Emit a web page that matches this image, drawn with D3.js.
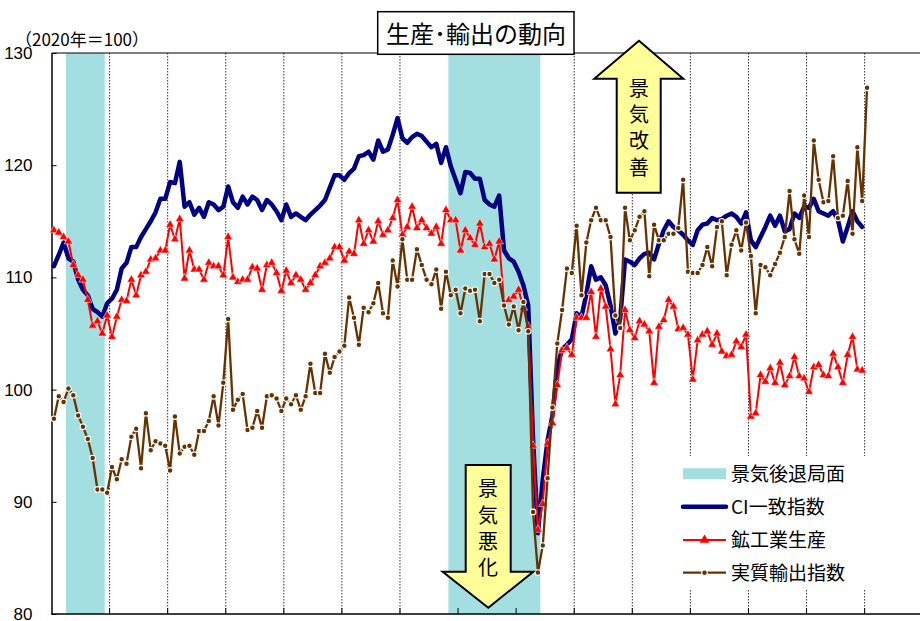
<!DOCTYPE html>
<html><head><meta charset="utf-8">
<script src="https://cdn.jsdelivr.net/npm/d3@7"></script>
<style>body{margin:0;background:#fff}svg{display:block}</style>
</head><body>
<svg id="c" width="920" height="621"></svg>
<script>
// ---------- data ----------
const yTicks = [80, 90, 100, 110, 120, 130];
const years = [2012,2013,2014,2015,2016,2017,2018,2019,2020,2021,2022,2023,2024,2025,2026];
const recessions = [["2012-04","2012-11"],["2018-11","2020-05"]];
const legendLabels = ["景気後退局面","CI一致指数","鉱工業生産","実質輸出指数"];

const ci = [111.0,112.0,113.1,111.7,111.4,109.8,108.9,108.4,107.2,106.9,106.5,107.7,
108.1,108.9,110.8,111.3,112.7,112.7,113.6,114.3,115.0,115.8,117.0,117.0,
118.5,118.4,120.3,116.3,116.7,115.6,116.2,115.4,116.7,116.5,116.0,116.3,
118.1,116.7,116.2,117.2,116.5,117.2,116.9,116.0,116.9,116.5,115.9,115.1,
116.5,115.4,115.7,115.4,115.1,115.6,116.0,116.4,116.9,118.0,119.1,119.1,
118.7,119.3,119.7,120.8,120.9,121.2,120.5,122.2,121.2,121.4,122.7,124.2,
122.4,122.0,122.5,122.8,122.6,122.1,121.6,121.9,120.2,121.6,119.9,118.7,
117.5,119.4,119.3,118.8,118.8,116.9,116.5,116.3,117.3,112.4,111.7,111.4,
110.5,109.3,107.5,95.5,87.2,92.0,95.5,97.7,102.0,103.6,104.0,104.5,
106.8,106.5,108.5,111.0,109.8,110.0,109.3,107.5,105.0,106.3,111.6,111.4,
111.1,111.7,112.1,112.2,111.6,113.0,114.2,115.0,114.5,114.2,113.8,113.3,
112.9,114.2,114.7,114.8,115.3,115.1,115.2,115.5,115.7,115.4,114.8,115.8,
113.3,112.7,113.6,114.5,115.5,114.6,115.5,114.1,114.3,115.7,115.3,116.3,
116.2,117.0,115.9,115.7,115.5,115.9,115.1,113.2,114.5,115.9,115.0,114.5];

const iip = [114.2,114.0,113.6,113.2,111.1,110.2,109.8,108.0,105.7,106.1,105.0,106.6,
104.7,106.5,108.0,107.9,109.8,108.4,110.2,110.5,111.6,111.7,112.4,112.4,
114.7,113.4,115.2,109.9,112.4,110.7,110.7,109.8,111.3,111.0,111.0,110.2,
113.6,110.0,109.6,109.8,109.8,110.9,110.8,108.9,111.1,111.3,110.4,108.8,
110.6,109.5,110.2,109.8,108.9,109.5,110.2,111.0,111.3,111.7,112.7,112.7,
111.5,112.3,112.1,115.1,113.0,114.2,113.2,115.0,113.8,114.2,115.3,116.9,
113.8,114.5,116.3,114.4,115.1,114.4,113.9,114.5,113.0,116.0,115.1,115.1,
112.4,114.2,113.5,112.9,114.8,112.7,113.0,111.6,113.2,107.7,108.0,108.3,
108.9,107.3,105.6,95.0,87.5,89.8,95.2,97.0,100.4,103.5,103.7,103.1,
106.4,106.4,106.4,108.7,104.7,109.0,107.4,103.6,98.7,101.3,107.1,105.3,
104.6,106.1,105.8,105.2,100.6,105.6,106.2,108.0,107.4,105.4,105.5,104.9,
100.9,104.4,104.9,105.2,104.0,105.0,103.4,103.0,103.1,104.3,103.8,104.9,
97.6,97.9,101.3,100.7,101.9,100.6,102.4,100.4,101.2,102.9,101.2,101.0,
99.8,102.0,102.2,101.3,101.2,103.2,102.0,100.6,103.1,104.7,101.8,101.7];

const realExports = [97.4,99.4,98.9,100.1,99.5,97.7,96.7,95.6,93.9,91.1,91.1,90.8,
93.1,92.0,93.8,93.4,95.8,96.5,93.0,97.9,94.6,95.4,95.2,95.0,
92.8,97.6,94.3,94.9,95.0,94.2,96.3,96.3,97.2,99.4,96.8,100.6,
106.3,98.2,99.1,99.6,96.4,96.6,98.1,96.6,99.4,99.5,99.2,98.1,
99.2,98.7,99.5,98.2,99.4,102.3,99.7,99.7,103.2,101.5,102.9,103.4,
103.9,108.2,106.4,104.0,107.3,106.9,107.7,109.5,106.8,106.4,111.5,109.2,
113.4,109.8,109.8,112.5,111.1,109.8,109.4,110.7,107.2,110.5,108.4,108.9,
106.8,109.0,108.8,108.9,106.1,110.3,110.3,109.5,109.8,107.5,105.8,107.4,
105.3,107.8,105.2,89.1,83.7,86.1,92.1,98.4,104.1,107.1,110.8,110.4,
114.6,108.4,113.1,115.1,116.2,115.1,115.1,113.6,106.6,105.5,116.2,113.3,
114.2,115.4,115.9,110.1,114.7,113.3,113.3,113.9,113.9,114.4,118.7,110.5,
110.4,110.4,111.1,112.7,111.0,114.5,115.0,110.2,112.9,114.2,112.4,114.9,
111.9,106.8,111.1,110.9,110.2,111.2,112.2,113.6,117.7,113.4,112.1,117.3,
113.6,122.2,118.7,116.7,116.8,120.8,115.3,115.5,118.6,113.9,121.6,116.8,
126.9];

const months = [];
years.forEach(yr => { for (let m = 1; m <= 12; m++) months.push(yr + "-" + String(m).padStart(2, "0")); });

// ---------- layout ----------
const L = 51.5, T = 53, B = 614, monthW = 4.84;
const svg = d3.select("#c");
const x = d3.scaleLinear().domain([0, 180]).range([L, L + 180 * monthW]);
const y = d3.scaleLinear().domain([80, 130]).range([B, T]);
const cx = i => x(i + 0.5);
const idx = m => months.indexOf(m);

const FONT = "'Noto Sans CJK JP', 'Noto Sans', sans-serif";
const NAVY = "#000080", RED = "#ff0000", BROWN = "#663300", TEAL = "#a3dfe0";

// vertical year grid (dotted)
const yearBounds = years.slice(1).map(yr => idx(yr + "-01")).filter(i => i > 0 && x(i) < 920);
svg.append("g").selectAll("line").data(yearBounds).join("line")
  .attr("x1", d => x(d)).attr("x2", d => x(d))
  .attr("y1", T).attr("y2", B)
  .attr("stroke", "#333").attr("stroke-width", 1).attr("stroke-dasharray", "1.5,1.5");

// recession shading
svg.append("g").selectAll("rect").data(recessions).join("rect")
  .attr("x", d => x(idx(d[0])))
  .attr("width", d => x(idx(d[1]) + 1) - x(idx(d[0])))
  .attr("y", T).attr("height", B - T)
  .attr("fill", TEAL);

// bottom ticks
svg.append("g").selectAll("line").data(yearBounds).join("line")
  .attr("x1", d => x(d)).attr("x2", d => x(d))
  .attr("y1", B - 6).attr("y2", B)
  .attr("stroke", "#000").attr("stroke-width", 1);

// frame lines
svg.append("line").attr("x1", L).attr("x2", 920).attr("y1", T).attr("y2", T).attr("stroke", "#000").attr("stroke-width", 1.2);
svg.append("line").attr("x1", L).attr("x2", 920).attr("y1", B).attr("y2", B).attr("stroke", "#000").attr("stroke-width", 1.5);

// y axis
const yAxis = d3.axisLeft(y).tickValues(yTicks).tickSize(-5).tickSizeOuter(0).tickPadding(19).tickFormat(d3.format("d"));
const ya = svg.append("g").attr("transform", `translate(${L},0)`).call(yAxis);
ya.select(".domain").attr("stroke", "#000").attr("stroke-width", 1.5);
ya.selectAll(".tick line").attr("stroke", "#000");
ya.selectAll("text").attr("font-family", "'Liberation Sans', Arial, sans-serif").attr("font-size", 17).attr("fill", "#000");

// unit label
svg.append("text").attr("x", 15).attr("y", 46).attr("font-family", FONT).attr("font-size", 17)
  .attr("fill", "#000").text("（2020年＝100）");

// series
const lineGen = d3.line().x((d, i) => cx(i)).y(d => y(d));
svg.append("path").datum(ci).attr("d", lineGen).attr("fill", "none")
  .attr("stroke", NAVY).attr("stroke-width", 4.5).attr("stroke-linejoin", "round").attr("stroke-linecap", "round");

svg.append("path").datum(iip).attr("d", lineGen).attr("fill", "none")
  .attr("stroke", RED).attr("stroke-width", 2).attr("stroke-linejoin", "round");
const tri = d3.symbol().type(d3.symbolTriangle).size(32);
svg.append("g").selectAll("path").data(iip).join("path")
  .attr("d", tri).attr("transform", (d, i) => `translate(${cx(i)},${y(d)})`)
  .attr("fill", RED).attr("stroke", "#fff").attr("stroke-width", 0.5);

svg.append("path").datum(realExports).attr("d", lineGen).attr("fill", "none")
  .attr("stroke", BROWN).attr("stroke-width", 2.3).attr("stroke-linejoin", "round");
svg.append("g").selectAll("circle").data(realExports).join("circle")
  .attr("cx", (d, i) => cx(i)).attr("cy", d => y(d)).attr("r", 2.8)
  .attr("fill", BROWN).attr("stroke", "#fff").attr("stroke-width", 1.1);

// legend
const lg = svg.append("g");
lg.append("rect").attr("x", 668).attr("y", 456).attr("width", 204).attr("height", 134).attr("fill", "#fff");
const rowsY = [473.7, 506.7, 540, 572.7];
lg.append("rect").attr("x", 683).attr("y", rowsY[0] - 5.5).attr("width", 43).attr("height", 11).attr("fill", TEAL);
lg.append("line").attr("x1", 683).attr("x2", 726).attr("y1", rowsY[1]).attr("y2", rowsY[1])
  .attr("stroke", NAVY).attr("stroke-width", 4.5).attr("stroke-linecap", "round");
lg.append("line").attr("x1", 683).attr("x2", 726).attr("y1", rowsY[2]).attr("y2", rowsY[2])
  .attr("stroke", RED).attr("stroke-width", 2);
lg.append("path").attr("d", d3.symbol().type(d3.symbolTriangle).size(40)).attr("transform", `translate(704.5,${rowsY[2]})`).attr("fill", RED);
lg.append("line").attr("x1", 683).attr("x2", 726).attr("y1", rowsY[3]).attr("y2", rowsY[3])
  .attr("stroke", BROWN).attr("stroke-width", 2.3);
lg.append("circle").attr("cx", 704.5).attr("cy", rowsY[3]).attr("r", 2.8).attr("fill", BROWN).attr("stroke", "#fff").attr("stroke-width", 1.1);
lg.selectAll("text").data(legendLabels).join("text")
  .attr("x", 731).attr("y", (d, i) => rowsY[i]).attr("dy", "0.36em")
  .attr("font-family", FONT).attr("font-size", 19).attr("fill", "#000").text(d => d);

// arrows
function vText(chars, cxp, ys) {
  svg.append("g").selectAll("text").data(chars).join("text")
    .attr("x", cxp).attr("y", (d, i) => ys[i]).attr("dy", "0.36em").attr("text-anchor", "middle")
    .attr("font-family", FONT).attr("font-size", 20).attr("fill", "#000").text(d => d);
}
svg.append("path")
  .attr("d", "M639,40.7 L683.3,78.7 L660.7,78.7 L660.7,192.7 L616.7,192.7 L616.7,78.7 L594.3,78.7 Z")
  .attr("fill", "#ffff99").attr("stroke", "#000").attr("stroke-width", 2).attr("stroke-linejoin", "miter");
vText(["景","気","改","善"], 639, [89, 114.5, 141, 168]);

svg.append("path")
  .attr("d", "M465.7,465 L510.7,465 L510.7,571.7 L533.3,571.7 L488.3,607.7 L442.7,571.7 L465.7,571.7 Z")
  .attr("fill", "#ffff99").attr("stroke", "#000").attr("stroke-width", 2).attr("stroke-linejoin", "miter");
vText(["景","気","悪","化"], 488, [489, 516, 541.7, 568]);

// title
svg.append("rect").attr("x", 377.7).attr("y", 11.7).attr("width", 196.3).attr("height", 42.6)
  .attr("fill", "#fff").attr("stroke", "#000").attr("stroke-width", 1.5);
svg.append("text").attr("x", 476).attr("y", 43).attr("text-anchor", "middle")
  .attr("font-family", FONT).attr("font-size", 24).attr("fill", "#000").text("生産･輸出の動向");
</script>
</body></html>
